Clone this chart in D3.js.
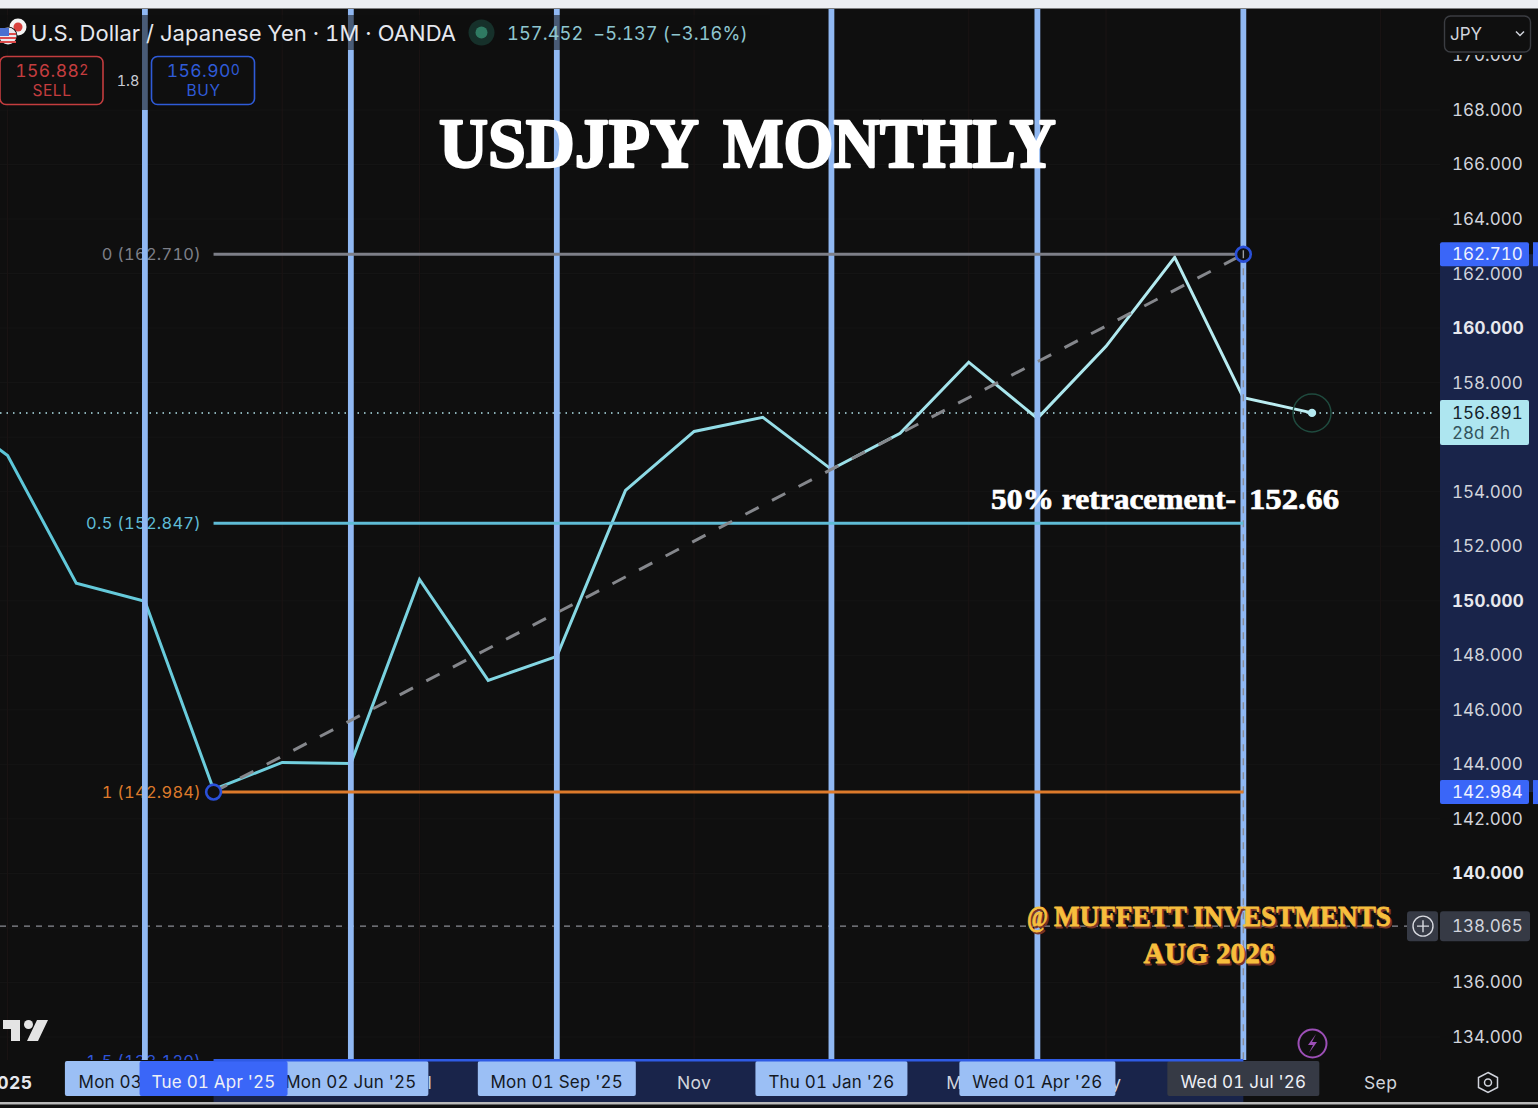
<!DOCTYPE html>
<html><head><meta charset="utf-8">
<script src="https://cdn.jsdelivr.net/npm/d3@7"></script>
<style>
html,body{margin:0;padding:0;background:#0f0f0f;overflow:hidden}
svg{display:block}
text{font-family:Inter,"Noto Sans",sans-serif;font-variant-numeric:tabular-nums;font-feature-settings:"tnum" 1;white-space:pre}
.serif{font-family:"Liberation Serif","DejaVu Serif",serif;font-weight:700}
</style></head><body><svg id="c" width="1538" height="1108"></svg>
<script>
// ---- data ----
const monthIndex=[-1,0,1,2,3,4,5,6,7,8,9,10,11,12,13,14,15,16,17,18,19];
const closes=[157.2,155.33,150.64,149.98,143.08,144.07,144.03,150.78,147.08,147.96,154.05,156.21,156.73,154.82,156.14,158.75,156.69,159.33,162.6,157.45,156.891];
const priceTicks=[134,136,138,140,142,144,146,148,150,152,154,156,158,160,162,164,166,168,170];
const boldTicks=[140,150,160];
const markerMonths=[2,5,8,12,15,18];
const gridMonths=[0,4,6,10,14,16,20];
const fibLevels=[0,0.5,1,1.5];
const fibPrices=[162.710,152.847,142.984,133.120];
const fibLabels=["0 (162.710)","0.5 (152.847)","1 (142.984)","1.5 (133.120)"];
const fibColors=["#7d7f88","#5fbcd6","#dd7a2b","#2f55d8"];
const plainAxisLabels=["2025","Nov","l","M","y","Sep"];
const plainAxisMonths=[0.02,10,6.15,13.79,16.15,20];
const dateBoxMonths=[2,5,8,12,15,18,3];
const dateBoxLabels=["Mon 03 Mar '25","Mon 02 Jun '25","Mon 01 Sep '25","Thu 01 Jan '26","Wed 01 Apr '26","Wed 01 Jul '26","Tue 01 Apr '25"];
const anchorLow=3, anchorHigh=18;
const lastPrice=156.891, alertPrice=138.065;

// ---- scales ----
const x=d3.scaleLinear().domain([0,19]).range([7.6,1312]);
const y=d3.scaleLinear().domain([134,168]).range([1037,110]);
const svg=d3.select("#c");
const defs=svg.append("defs");
const rectClip=(id,a,b,w,h)=>defs.append("clipPath").attr("id",id).append("rect").attr("x",a).attr("y",b).attr("width",w).attr("height",h);
rectClip("plot",0,9,1440,1051);
rectClip("axisY",1440,55,98,1005);
const grad=defs.append("linearGradient").attr("id","lineGrad").attr("gradientUnits","userSpaceOnUse").attr("x1",0).attr("x2",1320).attr("y1",0).attr("y2",0);
grad.append("stop").attr("offset",0).attr("stop-color","#5cc6d8");
grad.append("stop").attr("offset",1).attr("stop-color","#bfeff3");

svg.append("rect").attr("width",1538).attr("height",1108).attr("fill","#0f0f0f");

// grid
const grid=svg.append("g");
grid.selectAll(".h").data(priceTicks.filter(d=>d<170)).join("line").attr("x1",0).attr("x2",1440).attr("y1",d=>y(d)).attr("y2",d=>y(d)).attr("stroke","#151515");
grid.selectAll(".v").data(gridMonths).join("line").attr("x1",d=>x(d)).attr("x2",d=>x(d)).attr("y1",9).attr("y2",1060).attr("stroke","#1b1414");

// highlighted axis bands
const hiX0=x(anchorLow), hiX1=x(anchorHigh);
svg.append("rect").attr("x",1440).attr("width",98).attr("y",y(fibPrices[0])).attr("height",y(fibPrices[2])-y(fibPrices[0])).attr("fill","#19244a");
svg.append("rect").attr("x",hiX0).attr("width",hiX1-hiX0).attr("y",1060).attr("height",42).attr("fill","#19244a");

// fib labels (under the markers)
const plot=svg.append("g").attr("clip-path","url(#plot)");
plot.selectAll(".fl").data(fibLabels).join("text").attr("x",201).attr("y",(d,i)=>y(fibPrices[i])+6).attr("text-anchor","end")
  .attr("font-size",16.4).attr("letter-spacing",0.3).attr("fill",(d,i)=>fibColors[i]).text(d=>d);

// alert + price lines
plot.append("line").attr("x1",0).attr("x2",1407).attr("y1",y(alertPrice)).attr("y2",y(alertPrice)).attr("stroke","#8a8c94").attr("stroke-width",1.2).attr("stroke-dasharray","6 6");
plot.append("line").attr("x1",0).attr("x2",1436).attr("y1",y(lastPrice)).attr("y2",y(lastPrice)).attr("stroke","#b4e6ee").attr("stroke-width",1.5).attr("stroke-dasharray","1.5 5");

// vertical markers
svg.append("g").selectAll("line").data(markerMonths).join("line").attr("x1",d=>x(d)).attr("x2",d=>x(d)).attr("y1",9).attr("y2",1060).attr("stroke","#90b8f3").attr("stroke-width",5.8);
// vertical dashed
svg.append("line").attr("x1",x(18)).attr("x2",x(18)).attr("y1",y(fibPrices[0])).attr("y2",1060).attr("stroke","#8a8c94").attr("stroke-width",1.4).attr("stroke-dasharray","7 7");

// legend veil
svg.append("rect").attr("x",0).attr("y",15).attr("width",770).attr("height",35).attr("fill","#0f0f0f").attr("opacity",0.55);
svg.append("rect").attr("x",0).attr("y",50).attr("width",260).attr("height",60).attr("fill","#0f0f0f").attr("opacity",0.55);

// fib lines
svg.append("g").selectAll("line").data(fibLevels.slice(0,3)).join("line").attr("x1",x(anchorLow)).attr("x2",x(anchorHigh))
  .attr("y1",(d,i)=>y(fibPrices[i])).attr("y2",(d,i)=>y(fibPrices[i])).attr("stroke",(d,i)=>fibColors[i]).attr("stroke-width",3);

// trend dashed
svg.append("line").attr("x1",x(anchorLow)).attr("y1",y(fibPrices[2])).attr("x2",x(anchorHigh)).attr("y2",y(fibPrices[0])).attr("stroke","#85878c").attr("stroke-width",3).attr("stroke-dasharray","15 15");

// series
const line=d3.line().x(d=>x(d[0])).y(d=>y(d[1]));
plot.append("path").attr("d",line(monthIndex.map((m,i)=>[m,closes[i]]))).attr("fill","none").attr("stroke","url(#lineGrad)").attr("stroke-width",3).attr("stroke-linejoin","miter");
svg.append("circle").attr("cx",x(19)).attr("cy",y(lastPrice)).attr("r",19).attr("fill","none").attr("stroke","#1f4a3e").attr("stroke-width",1.5);
svg.append("circle").attr("cx",x(19)).attr("cy",y(lastPrice)).attr("r",4.2).attr("fill","#b4e9f0");

// handles
[[anchorLow,fibPrices[2]],[anchorHigh,fibPrices[0]]].forEach(p=>{
  svg.append("circle").attr("cx",x(p[0])).attr("cy",y(p[1])).attr("r",7.4).attr("fill","#0f0f0f").attr("stroke","#2a50d8").attr("stroke-width",2.6);
});
svg.append("line").attr("x1",x(18)).attr("x2",x(18)).attr("y1",y(fibPrices[0])-4).attr("y2",y(fibPrices[0])+4).attr("stroke","#9a9ca2").attr("stroke-width",1.4);

// price axis
const yAxis=d3.axisRight(y).tickValues(priceTicks).tickSize(0).tickPadding(0).tickFormat(d3.format(".3f"));
const ax=svg.append("g").attr("clip-path","url(#axisY)").append("g").attr("transform","translate(1452,0)").call(yAxis);
ax.select(".domain").remove();
ax.selectAll("text").attr("font-size",17).attr("letter-spacing",d=>boldTicks.includes(d)?0.2:0).attr("font-family","Inter").attr("font-weight",d=>boldTicks.includes(d)?700:400).attr("fill",d=>boldTicks.includes(d)?"#e6e8ee":"#d1d4dc");

// price tags
const tag=(yc,h,fill)=>svg.append("rect").attr("x",1440).attr("y",yc-h/2).attr("width",89).attr("height",h).attr("rx",2).attr("fill",fill);
const tagText=(t,yb,fill)=>svg.append("text").attr("x",1452).attr("y",yb).attr("font-size",17).attr("fill",fill).text(t);
[fibPrices[0],fibPrices[2]].forEach(p=>{
  tag(y(p),24,"#3a66f8");
  svg.append("rect").attr("x",1533).attr("y",y(p)-12).attr("width",5).attr("height",24).attr("fill","#3a66f8");
  tagText(d3.format(".3f")(p),y(p)+6,"#eef2ff");
});
svg.append("rect").attr("x",1440).attr("y",400).attr("width",89).attr("height",45).attr("rx",2).attr("fill","#aee6f0");
tagText(d3.format(".3f")(lastPrice),y(lastPrice)+6.5,"#14222a");
tagText("28d 2h",439,"#33545c");
svg.append("rect").attr("x",1440).attr("y",y(alertPrice)-15).attr("width",90).attr("height",30).attr("rx",3).attr("fill","#363a45");
tagText(d3.format(".3f")(alertPrice),y(alertPrice)+6,"#d1d4dc");
svg.append("rect").attr("x",1407).attr("y",y(alertPrice)-15).attr("width",31).attr("height",30).attr("rx",3).attr("fill","#363a45");
svg.append("circle").attr("cx",1423).attr("cy",y(alertPrice)).attr("r",10).attr("fill","none").attr("stroke","#d8dae0").attr("stroke-width",1.4);
svg.append("path").attr("d",`M1417 ${y(alertPrice)}h12M1423 ${y(alertPrice)-6}v12`).attr("stroke","#d8dae0").attr("stroke-width",1.4);

// time axis
svg.append("rect").attr("x",0).attr("y",1102).attr("width",1538).attr("height",2.5).attr("fill","#b9b9b9");
svg.selectAll(".pl").data(plainAxisLabels).join("text").attr("x",(d,i)=>x(plainAxisMonths[i])).attr("y",1089).attr("text-anchor","middle")
  .attr("font-size",17.5).attr("letter-spacing",0.4).attr("font-weight",(d,i)=>i==0?700:400).attr("fill",(d,i)=>i==0?"#e6e8ee":"#d1d4dc").text(d=>d);
svg.selectAll(".db").data(dateBoxLabels).join("g").each(function(d,i){
  const g=d3.select(this), cx=x(dateBoxMonths[i]);
  const w=i==0?160:(i==6?148:(i==1?155:(i==2?158:(i==3?152:(i==4?156:152)))));
  const fill=i==6?"#3a66f8":(i==5?"#363a45":"#9bbff5");
  g.append("rect").attr("x",cx-w/2).attr("y",1061).attr("width",w).attr("height",35).attr("rx",2).attr("fill",fill);
  g.append("text").attr("x",cx).attr("y",1088).attr("text-anchor","middle").attr("font-size",17).attr("letter-spacing",0.2)
    .attr("fill",(i==5||i==6)?"#eef0f6":"#14181f").text(d);
});
// highlight top border
svg.append("rect").attr("x",hiX0).attr("width",hiX1-hiX0).attr("y",1059).attr("height",2.5).attr("fill","#2f5be5");

// top strip
svg.append("rect").attr("width",1538).attr("height",8.5).attr("fill","#eceef2");

// legend
const flag=svg.append("g");
flag.append("circle").attr("cx",18).attr("cy",27).attr("r",8.5).attr("fill","#f4f4f4");
flag.append("circle").attr("cx",18).attr("cy",27).attr("r",4.5).attr("fill","#d8413e");
flag.append("circle").attr("cx",8).attr("cy",36).attr("r",9.5).attr("fill","#0f0f0f");
flag.append("circle").attr("cx",8).attr("cy",36).attr("r",8.5).attr("fill","#e9e9ee");
d3.range(3).forEach(i=>flag.append("rect").attr("x",0).attr("y",33+i*4).attr("width",16).attr("height",2).attr("fill","#dd4b4b"));
flag.append("rect").attr("x",0).attr("y",28).attr("width",9).attr("height",8).attr("fill","#4a6fd0");
svg.append("text").attr("x",31).attr("y",41).attr("font-size",22).attr("letter-spacing",0.05).attr("fill","#e6e8ee").text("U.S. Dollar / Japanese Yen · 1M · OANDA");
svg.append("circle").attr("cx",481.5).attr("cy",32.5).attr("r",13).attr("fill","#16302a");
svg.append("circle").attr("cx",481.5).attr("cy",32.5).attr("r",6).attr("fill","#2f7a62");
svg.append("text").attr("x",507).attr("y",40).attr("font-size",18.2).attr("letter-spacing",0.1).attr("fill","#8fc6d0").text("157.452  −5.137 (−3.16%)");

const btn=(bx,st,main,sup,lab)=>{
  svg.append("rect").attr("x",bx).attr("y",56.5).attr("width",103).attr("height",48).attr("rx",6).attr("fill","#0f0f0f").attr("stroke",st).attr("stroke-width",1.6);
  const t=svg.append("text").attr("x",bx+52).attr("y",77).attr("text-anchor","middle").attr("font-size",17.5).attr("letter-spacing",0.45).attr("fill",st);
  t.append("tspan").text(main); t.append("tspan").attr("font-size",14).attr("dy",-2).text(sup);
  svg.append("text").attr("x",bx+52).attr("y",96).attr("text-anchor","middle").attr("font-size",15.5).attr("letter-spacing",0.6).attr("fill",st).text(lab);
};
btn(0,"#c43d3f","156.88","2","SELL");
btn(151.5,"#2f5bd8","156.90","0","BUY");
svg.append("text").attr("x",128).attr("y",86).attr("text-anchor","middle").attr("font-size",14.5).attr("fill","#c9ccd4").text("1.8");

// currency box
svg.append("rect").attr("x",1444.5).attr("y",16).attr("width",86).attr("height",36).attr("rx",6).attr("fill","#0f0f0f").attr("stroke","#3b3d42").attr("stroke-width",1.4);
svg.append("text").attr("x",1450).attr("y",40).attr("font-size",17).attr("fill","#d1d4dc").text("JPY");
svg.append("path").attr("d","M1516 31.5l4 4 4-4").attr("fill","none").attr("stroke","#d1d4dc").attr("stroke-width",1.5);

// logos/icons
svg.append("path").attr("d","M3 1020H20V1041H11V1029H3ZM37 1020H48L38 1041H27Z").attr("fill","#e4e4e4");
svg.append("circle").attr("cx",28.5).attr("cy",1024.5).attr("r",4.5).attr("fill","#e4e4e4");
svg.append("circle").attr("cx",1312.5).attr("cy",1043.5).attr("r",14).attr("fill","#0f0f0f").attr("stroke","#9c4fb6").attr("stroke-width",2);
svg.append("path").attr("d","M1316 1034l-8 11h5l-4 8 8-11h-5z").attr("fill","#9c4fb6");
svg.append("path").attr("d","M1488 1072.5l9.5 5v10l-9.5 5-9.5-5v-10z").attr("fill","none").attr("stroke","#d1d4dc").attr("stroke-width",1.5);
svg.append("circle").attr("cx",1488).attr("cy",1082.5).attr("r",3.5).attr("fill","none").attr("stroke","#d1d4dc").attr("stroke-width",1.5);

// annotations
const serifText=(t,x0,x1,yb,fs,fill,sw)=>svg.append("text").attr("class","serif").attr("x",x0).attr("y",yb).attr("textLength",x1-x0).attr("lengthAdjust","spacingAndGlyphs")
  .attr("font-size",fs).attr("fill",fill).attr("stroke",fill).attr("stroke-width",sw).attr("stroke-linejoin","round").text(t);
serifText("USDJPY",439,699,167,70,"#fff",2.4);
serifText("MONTHLY",723,1056,167,70,"#fff",2.4);
serifText("50% retracement-",991,1236,509,30,"#fff",0.7);
serifText("152.66",1249,1339,509,30,"#fff",0.7);
[["#7a3526",1.6],["#f7be3d",0]].forEach(s=>{
  serifText("@",1027+s[1],1048+s[1],926+s[1],29,s[0],0.8);
  serifText("MUFFETT INVESTMENTS",1054+s[1],1391+s[1],926+s[1],29,s[0],0.8);
  serifText("AUG 2026",1143.5+s[1],1274.5+s[1],963+s[1],29,s[0],0.8);
});
</script></body></html>
